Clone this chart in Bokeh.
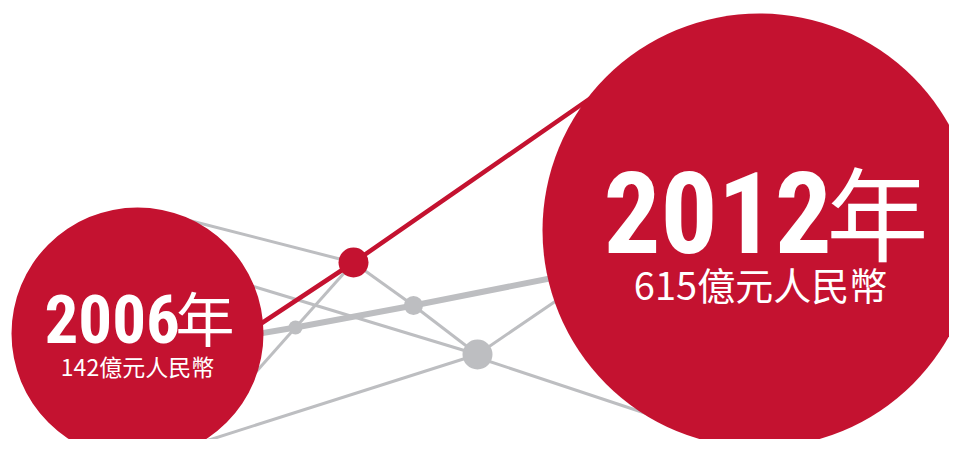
from bokeh.plotting import figure
from bokeh.models import Range1d
from bokeh.embed import file_html
from bokeh.resources import INLINE
from bokeh.core.properties import value

RED = "#C41230"
GRAY = "#BDBEC1"

# Big year circles
years = ["2006", "2012"]
amounts = ["142億元人民幣", "615億元人民幣"]
circle_x = [137, 759]
circle_y = [333, 230]
circle_r = [126, 217]

# Network nodes
node_x = [353, 295, 413, 477]
node_y = [262, 327, 305, 354]
node_r = [15, 7, 9.5, 15]
node_color = [RED, GRAY, GRAY, GRAY]

# Thin gray connections
thin_x0 = [185, 353, 295, 353, 413, 220, 477, 477, 477]
thin_y0 = [219, 262, 327, 262, 305, 276, 357, 354, 354]
thin_x1 = [353, 295, 240, 413, 477, 477, 700, 600, 185]
thin_y1 = [262, 327, 389, 305, 354, 354, 431, 270, 447]

# Thick gray connection
thick_x = [230, 295, 413, 600]
thick_y = [338, 327, 305, 268]

# Red connection
red_x = [200, 353, 630]
red_y = [363, 262, 70]

p = figure(width=949, height=439, x_range=Range1d(0, 949), y_range=Range1d(439, 0),
           output_backend="svg", toolbar_location=None, min_border=0)
p.axis.visible = False
p.grid.visible = False
p.outline_line_color = None
p.background_fill_color = "white"

p.segment(x0=thin_x0, y0=thin_y0, x1=thin_x1, y1=thin_y1, line_color=GRAY, line_width=3)
p.line(thick_x, thick_y, line_color=GRAY, line_width=6, line_join="round")
p.line(red_x, red_y, line_color=RED, line_width=4.5)

p.circle(x=node_x, y=node_y, radius=node_r, fill_color=node_color, line_color=None)
p.circle(x=circle_x, y=circle_y, radius=circle_r, fill_color=RED, line_color=None)

# Year numbers (bold condensed)
yr_x = [44, 603]
yr_y = [318, 212]
yr_size = ["67px", "113px"]
for i in range(2):
    p.text(x=[yr_x[i]], y=[yr_y[i]], text=[years[i]], text_color="white",
           text_font=value("Roboto Condensed"), text_font_style="bold",
           text_font_size=yr_size[i], text_align="left", text_baseline="alphabetic")

# 年 character
nian_x = [175, 826]
nian_y = [316, 209]
nian_size = ["59px", "102px"]
for i in range(2):
    p.text(x=[nian_x[i]], y=[nian_y[i]], text=["年"], text_color="white",
           text_font=value("Noto Sans CJK TC"), text_font_size=nian_size[i],
           text_align="left", text_baseline="alphabetic")

# Amount subtitles
amt_x = [137, 760]
amt_y = [365, 283]
amt_size = ["23px", "38px"]
for i in range(2):
    p.text(x=[amt_x[i]], y=[amt_y[i]], text=[amounts[i]], text_color="white",
           text_font=value("Noto Sans CJK TC"), text_font_size=amt_size[i],
           text_align="center", text_baseline="alphabetic")

open("out.html", "w").write(file_html(p, INLINE))
